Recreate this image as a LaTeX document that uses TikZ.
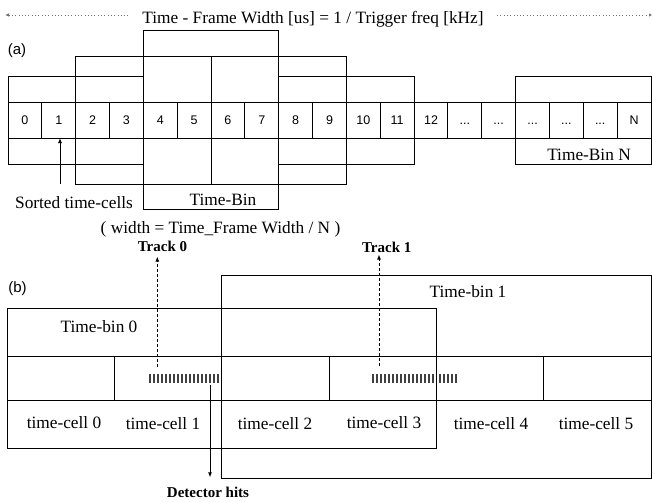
\documentclass[tikz,border=0pt]{standalone}
\usepackage{fontspec}
\setmainfont{Liberation Serif}
\setsansfont{Liberation Sans}
\usetikzlibrary{arrows.meta}
\newcommand{\threedots}{...}
\begin{document}
\begin{tikzpicture}[x=1pt,y=-1pt,line width=0.9pt,
  lbl/.style={font=\fontsize{17.3}{20}\selectfont,inner sep=0pt,anchor=base},
  bld/.style={font=\bfseries\fontsize{15}{18}\selectfont,inner sep=0pt,anchor=base},
  tag/.style={font=\sffamily\fontsize{15}{18}\selectfont,inner sep=0pt},
  acell/.style={draw,outer sep=0pt,inner sep=0pt,minimum width=33.84pt,minimum height=36pt,
    font=\sffamily\fontsize{12.5}{14}\selectfont,text height=9pt,text depth=0pt},
  bcell/.style={draw,outer sep=0pt,inner sep=0pt,minimum width=107.33pt,minimum height=44.7pt},
  tip/.style={-{Latex[length=5pt,width=4pt]}},
  dotline/.style={draw=black!55,line width=1pt,dash pattern=on 0.9pt off 2.4pt},
  trackline/.style={line width=0.8pt,dash pattern=on 3pt off 2pt},
  hit/.style={draw=black!75,line width=1.3pt}]
\useasboundingbox (0,0) rectangle (652,501);

% ---------- title ----------
\node[lbl] (title) at (313,23) {Time - Frame Width [us] = 1 / Trigger freq [kHz]};
\coordinate (tl) at (5,15);
\coordinate (tr) at (652,15);
\draw[dotline,{Latex[length=4pt,width=3.5pt]}-] (tl) -- ([xshift=-13pt]title.west |- tl);
\draw[dotline,-{Latex[length=3pt,width=3.5pt]}] ([xshift=13pt]title.east |- tr) -- (tr);

% ---------- (a) ----------
\node[tag] (taga) at (17,51) {(a)};
\foreach \i/\t in {0/0,1/1,2/2,3/3,4/4,5/5,6/6,7/7,8/8,9/9,10/10,11/11,12/12,
                   13/\threedots,14/\threedots,15/\threedots,16/\threedots,17/\threedots,18/N}{
  \node[acell] (c\i) at ({8+33.84*(\i+0.5)},120) {\t};
}
\draw (c0.west |- 0,76) rectangle (c3.east |- 0,164);
\draw (c2.west |- 0,56.7) rectangle (c5.east |- 0,184);
\draw (c4.west |- 0,30) rectangle (c7.east |- 0,209);
\draw (c6.west |- 0,56.7) rectangle (c9.east |- 0,184);
\draw (c8.west |- 0,76) rectangle (c11.east |- 0,164);
\draw (c15.west |- 0,76) rectangle (c18.east |- 0,164);

\node[lbl] (tbin) at (223,205) {Time-Bin};
\node[lbl] (tbinN) at (589,160) {Time-Bin N};
\node[lbl] (sorted) at (74,208) {Sorted time-cells};
\coordinate (sortedtail) at (60,184);
\draw[tip] (sortedtail) -- (sortedtail |- c1.south);
\node[lbl] (wnote) at (220.5,233) {( width = Time\_Frame Width / N )};

% ---------- (b) ----------
\node[bld] (track0) at (162.5,251) {Track 0};
\node[bld] (track1) at (386.7,252) {Track 1};
\node[tag] (tagb) at (17.5,289) {(b)};

\foreach \k in {0,...,5}{
  \node[bcell] (d\k) at ({7+107.33*(\k+0.5)},378.5) {};
}
\draw (d0.west |- 0,308) rectangle (d3.east |- 0,448);
\draw (d2.west |- 0,275) rectangle (d5.east |- 0,478);

\node[lbl] (tb0) at (99,332) {Time-bin 0};
\node[lbl] (tb1) at (468,297) {Time-bin 1};
\node[lbl] (tc0) at (64,428) {time-cell 0};
\node[lbl] (tc1) at (163,429) {time-cell 1};
\node[lbl] (tc2) at (275,429) {time-cell 2};
\node[lbl] (tc3) at (384,428) {time-cell 3};
\node[lbl] (tc4) at (491,429) {time-cell 4};
\node[lbl] (tc5) at (596,429) {time-cell 5};

% detector hits
\foreach \i in {0,...,17} \draw[hit] ({150+4*\i},374) -- ++(0,9);
\foreach \i in {0,...,15} \draw[hit] ({373+4*\i},374) -- ++(0,9);
\foreach \i in {0,...,4} \draw[hit] ({440+4*\i},374) -- ++(0,9);

\coordinate (h0) at (157.3,367);
\coordinate (h1) at (379,366);
\draw[trackline,tip,shorten >=5pt] (h0) -- (h0 |- track0.south);
\draw[trackline,tip,shorten >=2pt] (h1) -- (h1 |- track1.south);

\node[bld] (det) at (208,497) {Detector hits};
\coordinate (dstart) at (210,385);
\draw[tip,shorten >=8.8pt] (dstart) -- (dstart |- det.north);
\end{tikzpicture}
\end{document}
